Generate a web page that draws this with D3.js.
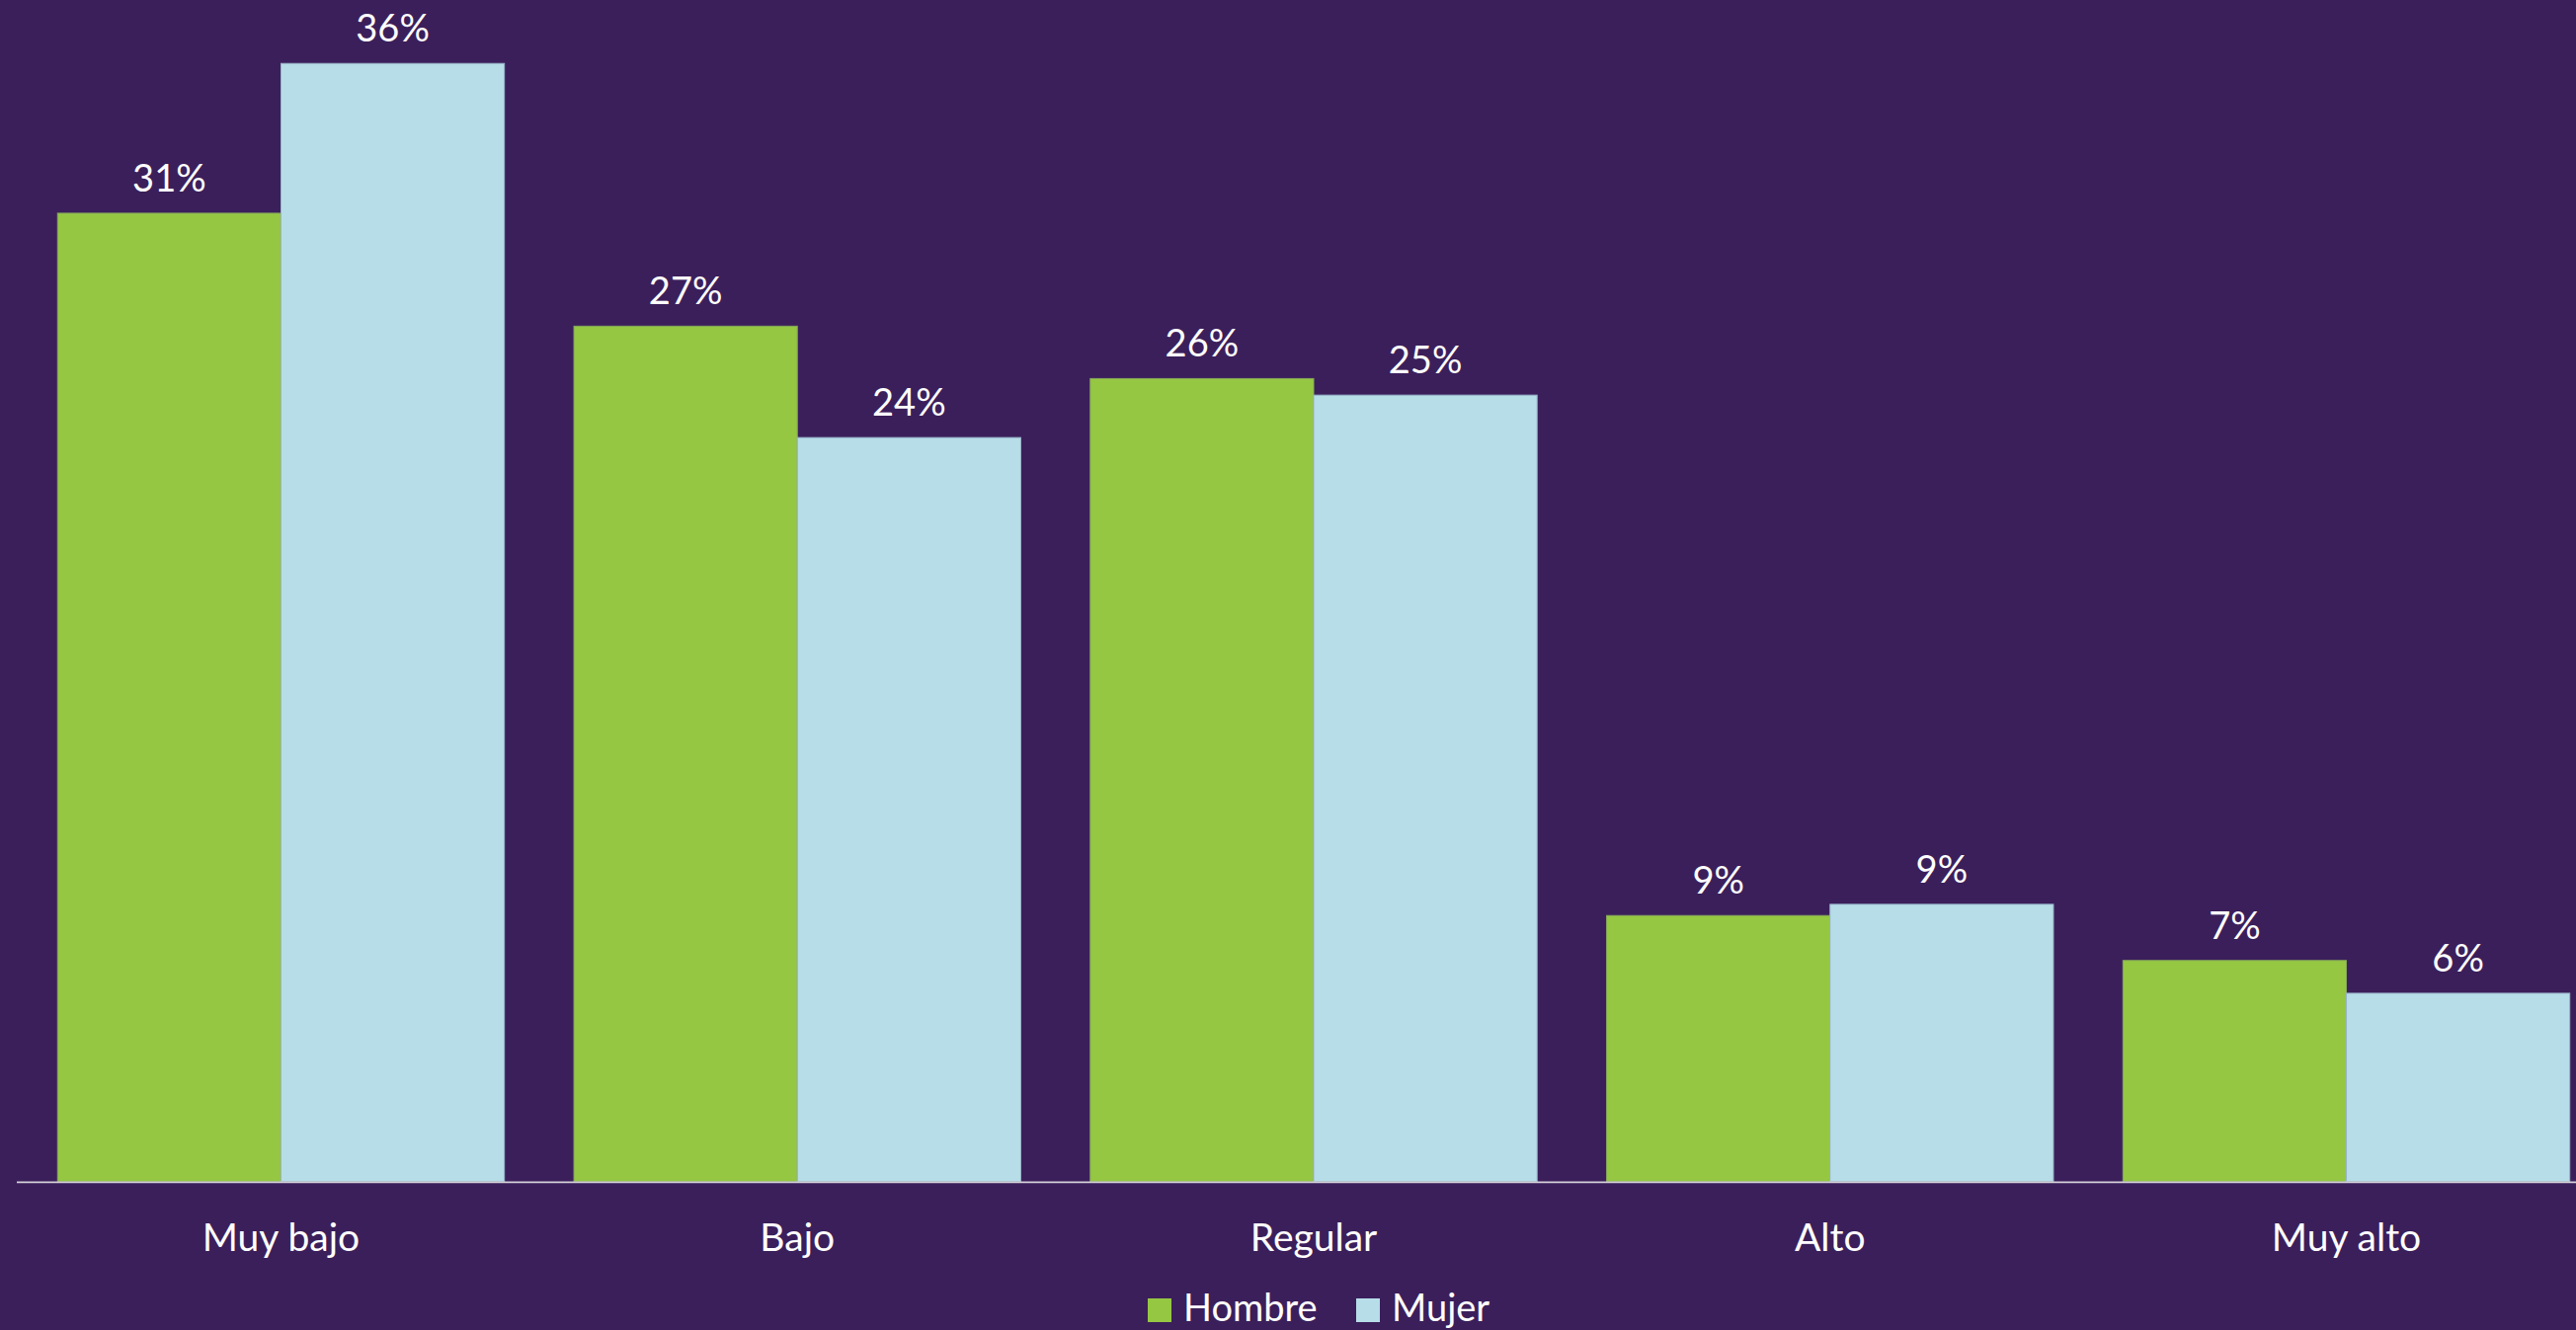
<!DOCTYPE html>
<html>
<head>
<meta charset="utf-8">
<script src="https://cdn.jsdelivr.net/npm/d3@7"></script>
<style>
  html, body { margin: 0; padding: 0; background: #3b1f5b; overflow: hidden; }
  svg { display: block; }
  text { font-family: Lato, "Open Sans", sans-serif; fill: #ffffff; }
</style>
</head>
<body>
<div id="chart"></div>
<script>
const categories = ['Muy bajo', 'Bajo', 'Regular', 'Alto', 'Muy alto']
const seriesNames = ['Hombre', 'Mujer']
const hombre = [0.3104, 0.2742, 0.2574, 0.0853, 0.0709]
const mujer = [0.3584, 0.2385, 0.2521, 0.0889, 0.0604]
const colors = ['#95c743', '#b7dde8']
const strokes = ['#86a85a', '#98b4c8']

const width = 2608
const height = 1347
const baseline = 1196.8

const rows = categories.map((c, i) => ({ category: c, values: [hombre[i], mujer[i]] }))

const svg = d3.select('#chart').append('svg')
  .attr('width', width)
  .attr('height', height)

svg.append('rect')
  .attr('width', width)
  .attr('height', height)
  .attr('fill', '#3b1f5b')

// excel style gap: half gap on each side of a category
const gap = 0.1346
const x0 = d3.scaleBand()
  .domain(categories)
  .range([23.1, 2636.9])
  .paddingInner(gap)
  .paddingOuter(gap / 2)

const x1 = d3.scaleBand()
  .domain(seriesNames)
  .range([0, x0.bandwidth()])

const y = d3.scaleLinear()
  .domain([0, 0.4])
  .range([baseline, baseline - 1264])

const groups = svg.append('g')
  .selectAll('g')
  .data(rows)
  .join('g')
    .attr('transform', d => `translate(${x0(d.category)},0)`)

const bars = groups.selectAll('g')
  .data(d => d.values.map((v, i) => ({ key: seriesNames[i], value: v, i })))
  .join('g')

bars.append('rect')
  .attr('x', d => x1(d.key))
  .attr('y', d => y(d.value))
  .attr('width', x1.bandwidth())
  .attr('height', d => y(0) - y(d.value))
  .attr('fill', d => colors[d.i])
  .attr('stroke', d => strokes[d.i])
  .attr('stroke-width', 1)

bars.append('text')
  .attr('x', d => x1(d.key) + x1.bandwidth() / 2)
  .attr('y', d => y(d.value) - 22)
  .attr('text-anchor', 'middle')
  .style('font-size', '38px')
  .text(d => d3.format('.0%')(d.value))

// axis
const axis = svg.append('g')
  .attr('transform', `translate(0,${baseline})`)
  .call(d3.axisBottom(x0).tickSize(0))

axis.select('.domain').remove()
axis.selectAll('text')
  .attr('y', 70)
  .attr('dy', null)
  .attr('fill', '#ffffff')
  .style('font-family', 'Lato, "Open Sans", sans-serif')
  .style('font-size', '39px')

svg.append('line')
  .attr('x1', 17)
  .attr('x2', width)
  .attr('y1', baseline + 0.6)
  .attr('y2', baseline + 0.6)
  .attr('stroke', '#d4d0d8')
  .attr('stroke-width', 1.6)

// legend
const legend = svg.append('g')
  .attr('transform', 'translate(1162,1338)')

const legendX = [0, 211]
const item = legend.selectAll('g')
  .data(seriesNames)
  .join('g')
    .attr('transform', (d, i) => `translate(${legendX[i]},0)`)

item.append('rect')
  .attr('x', 0)
  .attr('y', -23)
  .attr('width', 24)
  .attr('height', 24)
  .attr('fill', (d, i) => colors[i])

item.append('text')
  .attr('x', 36)
  .attr('y', 0)
  .style('font-size', '38px')
  .text(d => d)
</script>
</body>
</html>
